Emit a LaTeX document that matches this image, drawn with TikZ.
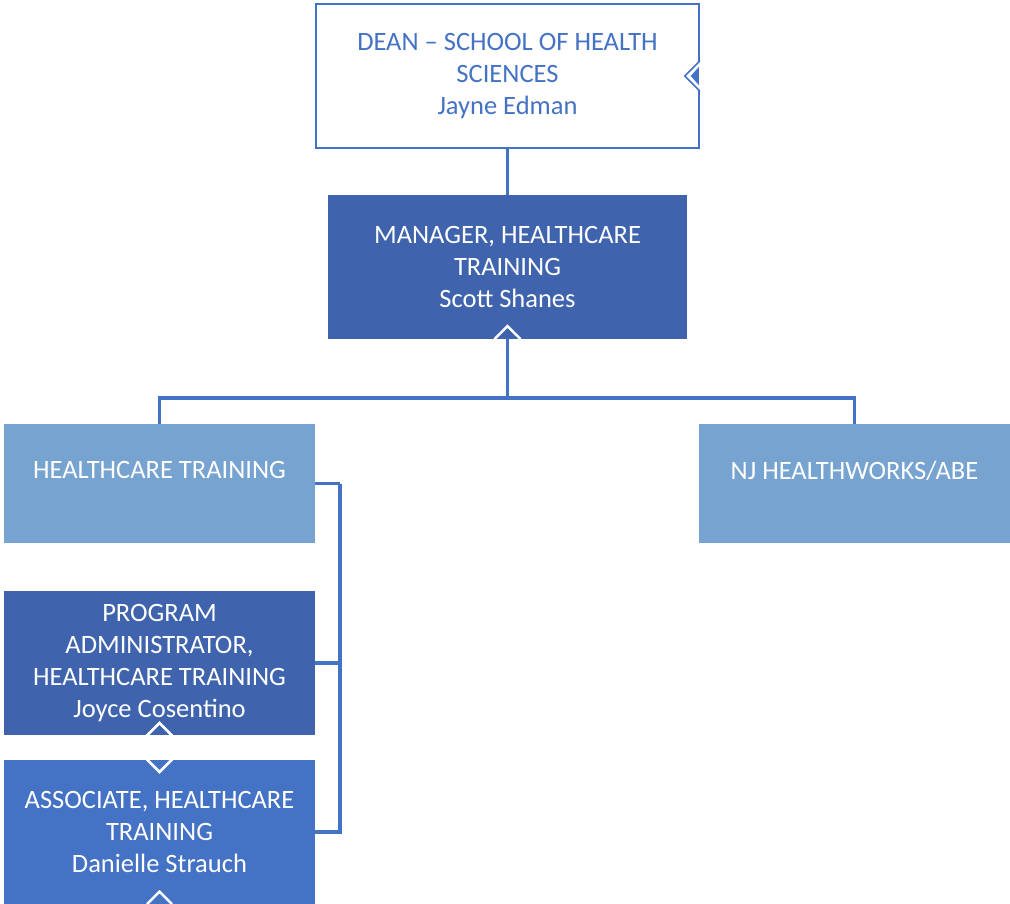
\documentclass[tikz,border=0pt]{standalone}
\usepackage{fontspec}
\setmainfont{Carlito}
\usetikzlibrary{positioning}
\definecolor{hsdark}{HTML}{3F64AD}
\definecolor{hsmid}{HTML}{4472C4}
\definecolor{hslight}{HTML}{76A3CF}
\tikzset{
	orgbox/.style={inner sep=0pt, align=center, font=\fontsize{26.5}{32}\selectfont, minimum width=311pt, minimum height=144pt},
	deanbox/.style={orgbox, draw=hsmid, line width=1.5pt, fill=white, text=hsmid, minimum width=383pt},
	darkbox/.style={orgbox, fill=hsdark, text=white},
	midbox/.style={orgbox, fill=hsmid, text=white},
	lightbox/.style={orgbox, fill=hslight, text=white, minimum height=119pt, text depth=27pt},
	link/.style={draw=hsmid, line width=3.5pt},
	chevron/.style={draw=white, line width=2.5pt}
}
\newcommand{\hsdiamond}{\draw[white, line width=2.5pt] (0,-24.5) -- (24.5,0) -- (0,24.5) -- (-24.5,0) -- cycle;}
\begin{document}
\begin{tikzpicture}[x=1pt, y=-1pt]
	\useasboundingbox (0,0) rectangle (1010,904);

	\node[deanbox] (dean) at (507.5,76) {DEAN -- SCHOOL OF HEALTH\\SCIENCES\\Jayne Edman};
	\node[darkbox, minimum width=359pt] (manager) at (507.5,267) {MANAGER, HEALTHCARE\\TRAINING\\Scott Shanes};
	\node[lightbox] (ht) at (159.5,483.5) {HEALTHCARE TRAINING};
	\node[lightbox] (nj) at (854.5,483.5) {NJ HEALTHWORKS/ABE};
	\node[darkbox] (admin) at (159.5,663) {PROGRAM\\ADMINISTRATOR,\\HEALTHCARE TRAINING\\Joyce Cosentino};
	\node[midbox] (assoc) at (159.5,832) {ASSOCIATE, HEALTHCARE\\TRAINING\\Danielle Strauch};

	\draw[link] (dean.south) -- (manager.north);
	\draw[link] (manager.south) -- ++(0,59) coordinate (bus);
	\draw[link] (bus) -| (ht.north);
	\draw[link] (bus) -| (nj.north);
	\draw[link] (ht.east) -- ++(25,0) coordinate (spine);
	\draw[link] (spine) |- (admin.east);
	\draw[link] (spine) |- (assoc.east);

	\begin{scope}[shift={(dean.east)}]
		\fill[white] (0.8,-15) -- (-15,0) -- (0.8,15) -- cycle;
		\draw[hsmid, line width=1.5pt] (0,-15) -- (-15,0) -- (0,15);
		\fill[hsmid] (-1,-9) -- (-9,0) -- (-1,9) -- cycle;
	\end{scope}

	\draw[chevron] ([xshift=-13pt]manager.south) -- ++(13,-13) -- ++(13,13);

	\begin{scope}[shift={(159.5,747.5)}]
		\hsdiamond
	\end{scope}

	\draw[chevron] ([xshift=-12.5pt]assoc.south) -- ++(12.5,-12.5) -- ++(12.5,12.5);
\end{tikzpicture}
\end{document}
